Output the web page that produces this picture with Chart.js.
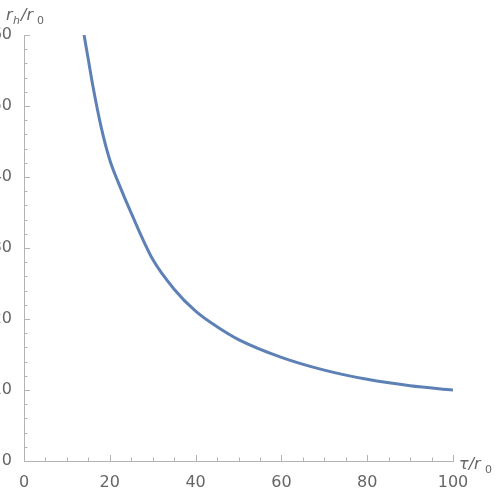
<!DOCTYPE html>
<html>
<head>
<script src="https://cdn.jsdelivr.net/npm/chart.js@4"></script>
<style>body{margin:0;background:#fff}#wrap{width:498px;height:493px}</style>
</head>
<body>
<div id="wrap"><canvas id="myChart"></canvas></div>
<script>
var tau = [14, 15, 16, 18, 20, 22, 25, 30, 35, 40, 45, 50, 60, 70, 80, 90, 100];
var rh = [60, 56.5, 53, 47, 42.4, 39.2, 34.9, 28.4, 24.2, 21.1, 18.9, 17.1, 14.6, 12.8, 11.5, 10.6, 10.0];
var xTicks = [0, 20, 40, 60, 80, 100];
var yTicks = [0, 10, 20, 30, 40, 50, 60];

var points = [];
for (let i = 0; i < tau.length; i++) {
    points.push({ x: tau[i], y: rh[i] });
}

var axisColor = '#b3b3b3';
var textColor = '#666';

var mathPlugin = {
    id: 'mathPlugin',
    afterDraw: function (chart) {
        var ctx = chart.ctx, xs = chart.scales.x, ys = chart.scales.y;
        var a = chart.chartArea;
        ctx.save();
        ctx.strokeStyle = axisColor;
        ctx.lineWidth = 1;
        // minor & major ticks, inward
        for (let v = 0; v <= 100; v += 5) {
            let px = Math.round(xs.getPixelForValue(v)) + 0.5;
            let len = (v % 20 === 0) ? 6 : 3.5;
            ctx.beginPath(); ctx.moveTo(px, a.bottom); ctx.lineTo(px, a.bottom - len); ctx.stroke();
        }
        for (let v = 0; v <= 60; v += 2) {
            let py = Math.round(ys.getPixelForValue(v)) + 0.5;
            let len = (v % 10 === 0) ? 6 : 3.5;
            ctx.beginPath(); ctx.moveTo(a.left, py); ctx.lineTo(a.left + len, py); ctx.stroke();
        }
        // axis titles
        ctx.fillStyle = textColor;
        ctx.font = 'italic 16px "DejaVu Sans"';
        ctx.textBaseline = 'alphabetic';
        ctx.fillText('r', 6, 20);
        ctx.font = 'italic 11px "DejaVu Sans"';
        ctx.fillText('h', 13, 24);
        ctx.font = 'italic 16px "DejaVu Sans"';
        ctx.fillText('/r', 21, 20);
        ctx.font = '11px "DejaVu Sans"';
        ctx.fillText('0', 37, 24);
        ctx.font = 'italic 16px "DejaVu Sans"';
        ctx.fillText('τ/r', 459, 469);
        ctx.font = '11px "DejaVu Sans"';
        ctx.fillText('0', 485, 473);
        ctx.restore();
    }
};

var ctx = document.getElementById('myChart').getContext('2d');
var chart = new Chart(ctx, {
    type: 'scatter',
    data: {
        datasets: [{
            data: points,
            showLine: true,
            borderColor: '#5e81b5',
            borderWidth: 3,
            pointRadius: 0,
            cubicInterpolationMode: 'monotone'
        }]
    },
    options: {
        responsive: true,
        maintainAspectRatio: false,
        animation: false,
        layout: { padding: { top: 35, right: 45, left: 0, bottom: 0 } },
        plugins: { legend: { display: false }, tooltip: { enabled: false } },
        scales: {
            x: {
                min: 0, max: 100,
                afterFit: function (s) { s.height = 32; },
                afterBuildTicks: function (s) { s.ticks = xTicks.map(v => ({ value: v })); },
                grid: { display: false },
                border: { color: axisColor },
                ticks: { color: textColor, font: { size: 16, family: 'DejaVu Sans' }, padding: 4, maxRotation: 0 }
            },
            y: {
                min: 0, max: 60,
                afterFit: function (s) { s.width = 24; },
                afterBuildTicks: function (s) { s.ticks = yTicks.map(v => ({ value: v })); },
                grid: { display: false },
                border: { color: axisColor },
                ticks: { color: textColor, font: { size: 16, family: 'DejaVu Sans' }, padding: 4 }
            }
        }
    },
    plugins: [mathPlugin]
});
</script>
</body>
</html>
